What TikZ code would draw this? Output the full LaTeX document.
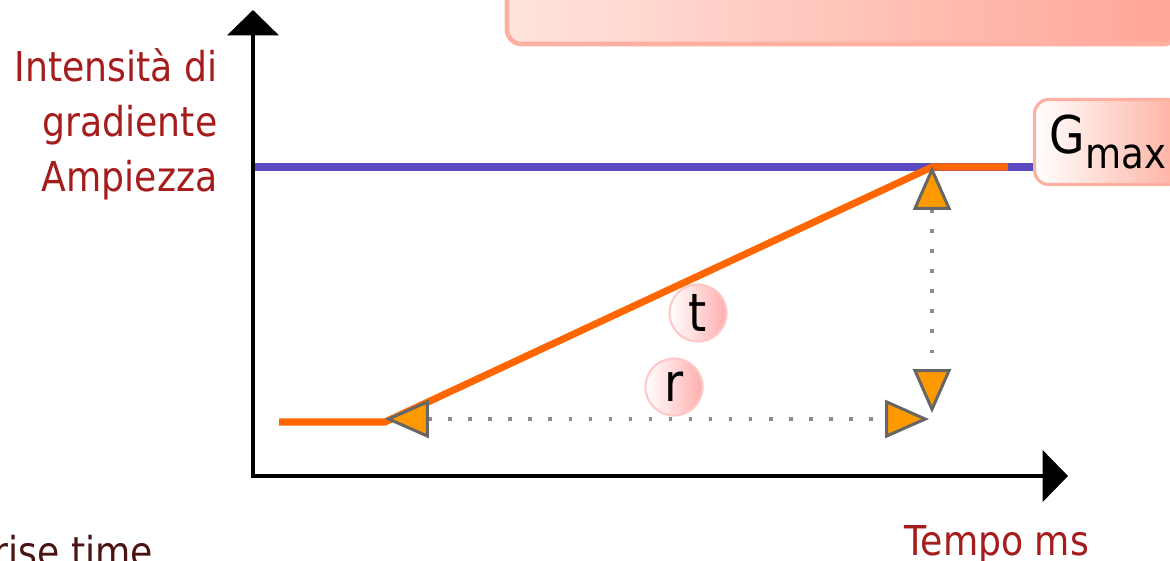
\documentclass[tikz,border=0pt]{standalone}
\usepackage{fontspec}
\setmainfont{DejaVu Sans}[FakeStretch=0.88]
\usetikzlibrary{arrows.meta}

\definecolor{labred}{RGB}{165,28,28}
\definecolor{risebrown}{RGB}{75,20,20}
\definecolor{gblue}{RGB}{92,75,192}
\definecolor{pulseorange}{RGB}{255,102,0}
\definecolor{tipfill}{RGB}{255,153,0}
\definecolor{tipgray}{RGB}{102,102,102}
\definecolor{dotgray}{RGB}{140,140,140}
\definecolor{boxline}{RGB}{255,176,160}
\definecolor{boxlight}{RGB}{255,228,222}
\definecolor{boxdark}{RGB}{255,165,150}

\tikzset{
    dimtip/.tip={Triangle[length=12.5pt, width=10.8pt, fill=tipfill, color=tipgray, line width=0.85pt]},
    axtip/.tip={Triangle[length=7.2pt, width=14.5pt]}
}

\begin{document}
\begin{tikzpicture}[x=0.01cm, y=-0.01cm, font=\fontsize{11.7}{14}\selectfont,
    axis/.style={line width=1.15pt, axtip-axtip},
    gline/.style={line width=2.3pt, gblue},
    pulse/.style={line width=2pt, pulseorange},
    dimline/.style={line width=1pt, dotgray, dash pattern=on 1pt off 4.7pt, dimtip-dimtip},
    axlab/.style={text=labred, inner sep=0pt},
    badge/.style={circle, minimum size=0.57cm, inner sep=0pt, left color=white, right color=red!32, draw=red!22, line width=0.6pt, font=\fontsize{15}{18}\selectfont}]
    \useasboundingbox (0,0) rectangle (1170,560);
    \clip (0,0) rectangle (1170,560);

    % box at the top, cut by the frame
    \draw[boxline, line width=1.3pt, rounded corners=4pt, left color=boxlight, right color=boxdark] (507,-40) rectangle (1178,44);

    % points of the pulse
    \coordinate (O) at (253,476);
    \coordinate (ytop) at (253,10);
    \coordinate (xend) at (1068,476);
    \coordinate (p0) at (279,422);
    \coordinate (p1) at (385,422);
    \coordinate (p2) at (932,167);
    \coordinate (p3) at (1008,167);
    \coordinate (gstart) at (255,167);

    \node[draw=boxline, line width=0.9pt, rounded corners=4pt, left color=white, right color=boxline,
          anchor=west, minimum height=0.85cm, inner xsep=0.15cm] (gmax) at (1033,142)
        {\fontsize{14.8}{17}\selectfont G\raisebox{-4.3pt}{\fontsize{12}{14}\selectfont max}\hspace{0.2cm}};

    \draw[gline] (gstart) -- (gmax.west |- gstart);
    \draw[pulse] (p0) -- (p1) -- (p2) -- (p3);

    \draw[axis] (ytop) -- (O) -- (xend);

    \draw[dimline] (p1 |- 0,419) -- (929,419);
    \draw[dimline] (p2 |- 0,166) -- (932,413);

    \node[badge] (tbadge) at (698,313) {t};
    \node[badge] (rbadge) at (674,387) {r};

    \node[axlab, anchor=base east] (ylab1) at (218,81) {Intensità di};
    \node[axlab, anchor=base east] (ylab2) at (218,136) {gradiente};
    \node[axlab, anchor=base east] (ylab3) at (218,191) {Ampiezza};
    \node[axlab, anchor=base] (xlab) at (997,555) {Tempo ms};
    \node[text=risebrown, inner sep=0pt, anchor=base east] (rise) at (154,566) {rise time};
\end{tikzpicture}
\end{document}
